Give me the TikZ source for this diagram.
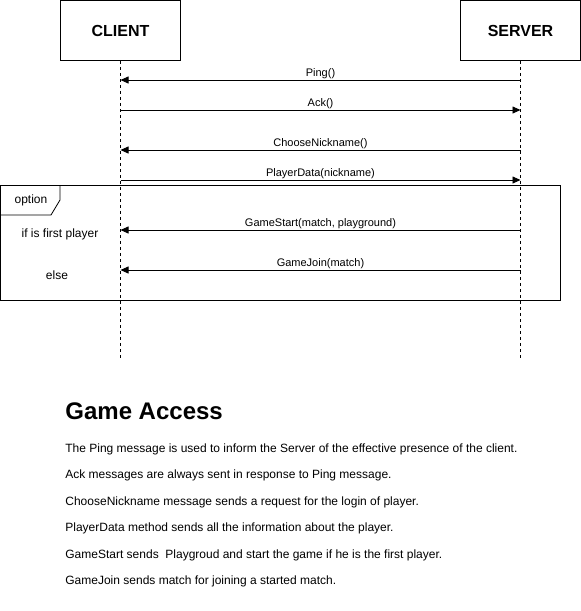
\documentclass[tikz,border=0pt]{standalone}
\usepackage{fontspec}
\setmainfont{Liberation Sans}
\usetikzlibrary{arrows.meta}

\begin{document}
\begin{tikzpicture}[x=1pt, y=-1pt, line width=0.8pt, >={Triangle[length=8pt,width=7pt]}]
    \tikzstyle{actor} = [draw, minimum width=120pt, minimum height=60pt, font=\fontsize{16}{18}\selectfont\bfseries]
    \tikzstyle{lifeline} = [dashed, dash pattern=on 3pt off 3pt, line width=0.7pt]
    \tikzstyle{msg} = [line width=0.8pt]
    \tikzstyle{lbl} = [anchor=base, yshift=4pt, inner sep=0pt, font=\fontsize{11}{13}\selectfont]
    \tikzstyle{note} = [inner sep=0pt, font=\fontsize{12}{14}\selectfont]
    \useasboundingbox (0,0) rectangle (581,611);

    % Actors
    \node[actor] (client) at (120.5,30.5) {CLIENT};
    \node[actor] (server) at (520.5,30.5) {SERVER};

    % Lifelines
    \coordinate (clientend) at (120.5,360);
    \coordinate (serverend) at (520.5,360);
    \draw[lifeline] (client.south) -- (clientend);
    \draw[lifeline] (server.south) -- (serverend);

    % Option frame
    \draw (0.5,185) rectangle (560,300);
    \draw (0.5,215) -- (51,215) -- (60,200) -- (60,185);
    \node[note] (optlbl) at (31,200) {option};
    \node[note] (firstlbl) at (60,234) {if is first player};
    \node[note] (elselbl) at (57,275) {else};

    % Messages
    \foreach \y/\txt/\dir in {80/Ping()/<-, 110/Ack()/->, 150/ChooseNickname()/<-,
        180/PlayerData(nickname)/->, 230/{GameStart(match, playground)}/<-, 270/GameJoin(match)/<-} {
        \coordinate (cl\y) at (120.5,\y);
        \coordinate (sv\y) at (520.5,\y);
        \draw[msg, \dir] (cl\y) -- node[lbl] {\txt} (sv\y);
    }

    % Description
    \node[anchor=base west, inner sep=0pt, font=\fontsize{24}{28}\selectfont\bfseries] (title) at (65,419) {Game Access};
    \node[note, anchor=base west] (d1) at (65,452) {The Ping message is used to inform the Server of the effective presence of the client.};
    \node[note, anchor=base west] (d2) at (65,478.5) {Ack messages are always sent in response to Ping message.};
    \node[note, anchor=base west] (d3) at (65,505) {ChooseNickname message sends a request for the login of player.};
    \node[note, anchor=base west] (d4) at (65,531.5) {PlayerData method sends all the information about the player.};
    \node[note, anchor=base west] (d5) at (65,558) {GameStart sends\ \ Playgroud and start the game if he is the first player.};
    \node[note, anchor=base west] (d6) at (65,584.5) {GameJoin sends match for joining a started match.};
\end{tikzpicture}
\end{document}
